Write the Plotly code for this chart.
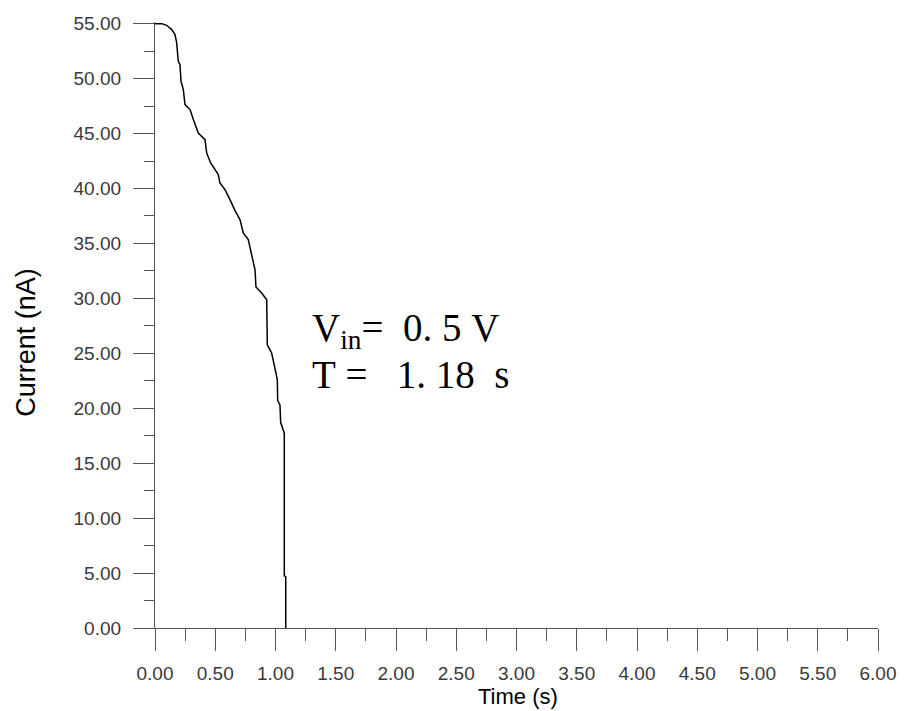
import plotly.graph_objects as go

# Data
time_s = [0.00, 0.056, 0.097, 0.139, 0.166, 0.180, 0.193, 0.207, 0.216, 0.235,
          0.249, 0.291, 0.318, 0.359, 0.415, 0.429, 0.462, 0.525, 0.539, 0.581,
          0.622, 0.664, 0.705, 0.733, 0.774, 0.794, 0.816, 0.830, 0.838, 0.885,
          0.927, 0.932, 0.968, 0.988, 1.004, 1.015, 1.018, 1.037, 1.043, 1.073,
          1.073, 1.085, 1.085]
current_nA = [55.00, 55.00, 54.85, 54.46, 54.00, 53.25, 51.58, 51.28, 49.75, 49.00,
              47.63, 47.18, 46.27, 45.05, 44.44, 43.23, 42.32, 41.26, 40.50, 39.89,
              38.98, 37.98, 37.17, 35.95, 35.34, 34.27, 33.36, 32.60, 31.03, 30.48,
              29.87, 25.77, 25.02, 23.80, 23.20, 22.59, 20.70, 20.31, 18.70, 17.73,
              4.74, 4.67, 0.00]

x_ticks = [i * 0.5 for i in range(13)]
y_ticks = [i * 5 for i in range(12)]
x_title = "Time (s)"
y_title = "Current (nA)"
note_line1 = "V<sub>in</sub>=&nbsp;&nbsp;0.&nbsp;5&nbsp;V"
note_line2 = "T&nbsp;=&nbsp;&nbsp;&nbsp;1.&nbsp;18&nbsp;&nbsp;s"

AX = "#555555"
LBL = "#3a3a3a"
SANS = "Liberation Sans, Arial, sans-serif"
SERIF = "Liberation Serif, Times New Roman, serif"

fig = go.Figure()
fig.add_trace(go.Scatter(x=time_s, y=current_nA, mode="lines",
                         line=dict(color="black", width=1.5),
                         showlegend=False, hoverinfo="skip"))

fig.update_layout(
    width=906, height=711,
    margin=dict(l=155, r=28, t=22, b=83),
    paper_bgcolor="white", plot_bgcolor="white",
    xaxis=dict(range=[0, 6], tickvals=x_ticks, tickformat=".2f",
               showgrid=False, zeroline=False, showline=True,
               linecolor=AX, linewidth=1.3,
               ticks="outside", ticklen=22, tickwidth=1.3, tickcolor=AX,
               minor=dict(ticks="outside", ticklen=12, tickwidth=1.3,
                          tickcolor=AX, dtick=0.25, showgrid=False),
               tickfont=dict(family=SANS, size=19, color=LBL),
               ticklabelstandoff=6, automargin=False),
    yaxis=dict(range=[0, 55.15], tickvals=y_ticks, tickformat=".2f",
               showgrid=False, zeroline=False, showline=True,
               linecolor=AX, linewidth=1.3,
               ticks="outside", ticklen=21, tickwidth=1.3, tickcolor=AX,
               minor=dict(ticks="outside", ticklen=10, tickwidth=1.3,
                          tickcolor=AX, dtick=2.5, showgrid=False),
               tickfont=dict(family=SANS, size=19, color=LBL),
               ticklabelstandoff=8, automargin=False),
)

fig.add_annotation(text=y_title, xref="paper", yref="paper",
                   x=(25.8 - 155) / 723, y=(628 - 342) / 606,
                   textangle=-90, showarrow=False,
                   xanchor="center", yanchor="middle",
                   font=dict(family=SANS, size=27, color="black"))
fig.add_annotation(text=x_title, xref="paper", yref="paper",
                   x=(518 - 155) / 723, y=(628 - 696) / 606,
                   showarrow=False, xanchor="center", yanchor="middle",
                   font=dict(family=SANS, size=22, color="black"))

fig.add_annotation(text=note_line1, xref="x", yref="y", x=1.29, y=27.1,
                   showarrow=False, xanchor="left", yanchor="middle",
                   font=dict(family=SERIF, size=39, color="black"))
fig.add_annotation(text=note_line2, xref="x", yref="y", x=1.29, y=23.1,
                   showarrow=False, xanchor="left", yanchor="middle",
                   font=dict(family=SERIF, size=39, color="black"))

fig.write_html("out.html")
